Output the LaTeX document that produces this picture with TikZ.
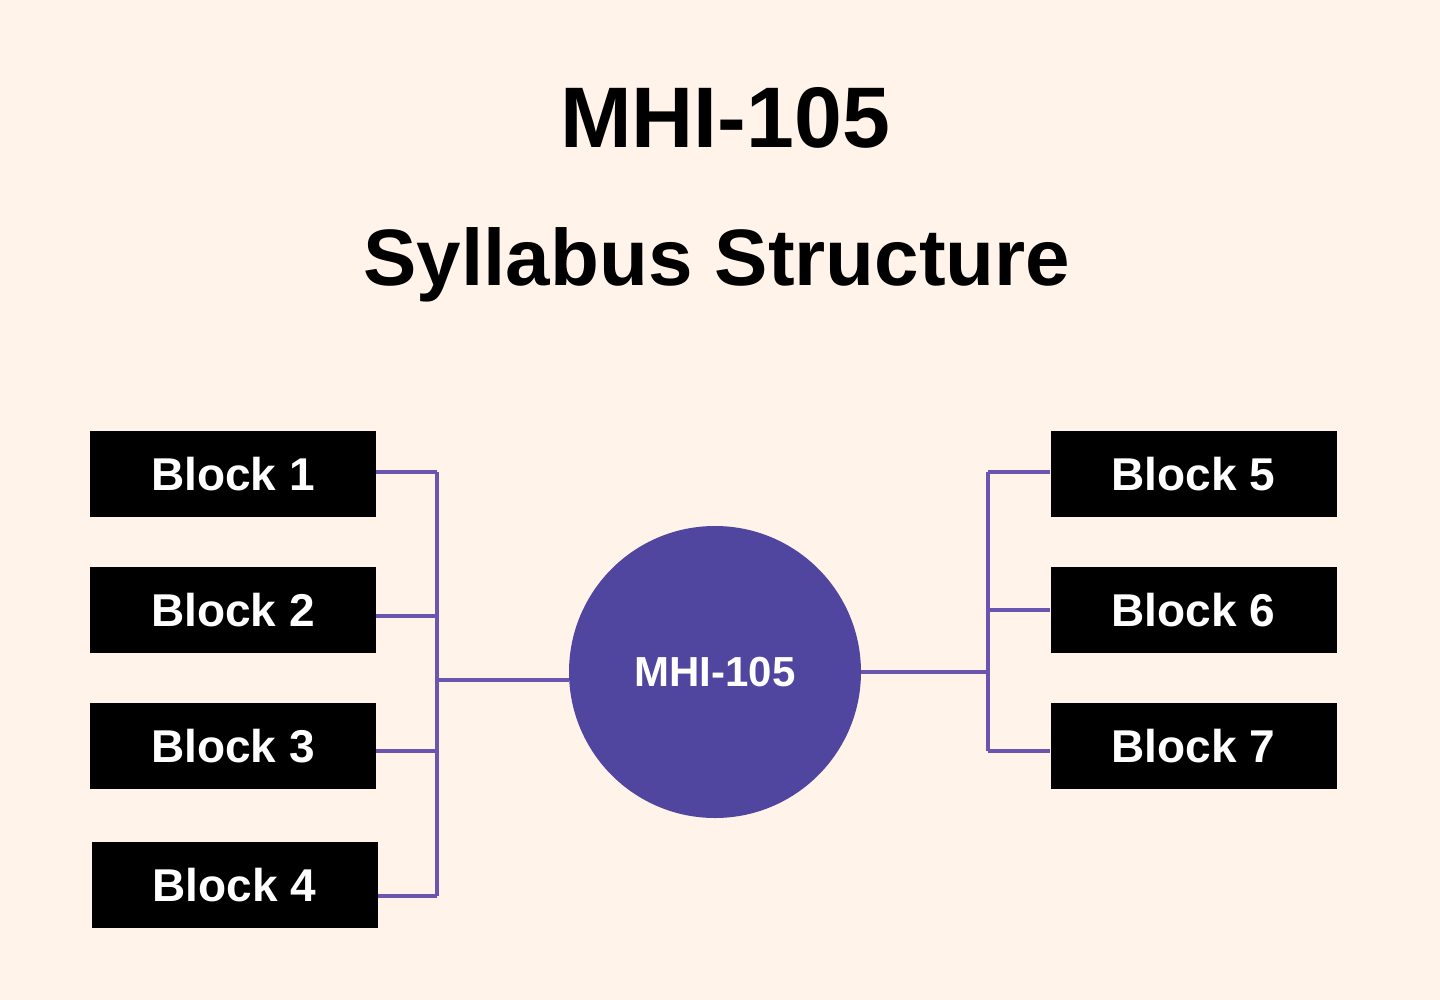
\documentclass[tikz,border=0pt]{standalone}
\usepackage{fontspec}
\setmainfont{Liberation Sans}
\begin{document}
\begin{tikzpicture}[x=0.5pt,y=-0.5pt,
  blk/.style={fill=black,text=white,minimum width=143pt,minimum height=43pt,inner sep=0pt,font=\fontsize{23}{26}\selectfont\bfseries},
  ln/.style={draw=lineP,line width=1.6pt}]
\definecolor{bg}{HTML}{FFF3EA}
\definecolor{circP}{HTML}{5046A0}
\definecolor{lineP}{HTML}{6A55B0}
\fill[bg] (0,0) rectangle (1440,1000);
\useasboundingbox (0,0) rectangle (1440,1000);
\node[font=\fontsize{43}{48}\selectfont\bfseries] (t1) at (725,118) {MHI-105};
\node[font=\fontsize{40}{46}\selectfont\bfseries] (t2) at (717,265) {Syllabus Structure};
\node[blk] (b1) at (233,474) {Block 1};
\node[blk] (b2) at (233,610) {Block 2};
\node[blk] (b3) at (233,746) {Block 3};
\node[blk] (b4) at (234.5,885) {Block 4};
\node[blk] (b5) at (1193.5,474) {Block 5};
\node[blk] (b6) at (1193.5,610) {Block 6};
\node[blk] (b7) at (1193.5,746) {Block 7};
\node[circle,fill=circP,minimum size=146pt,inner sep=0pt,text=white,font=\fontsize{21}{24}\selectfont\bfseries] (c) at (715,672) {MHI-105};
\coordinate (L1) at (437,472); \coordinate (L4) at (437,896);
\coordinate (R1) at (988,472); \coordinate (R7) at (988,751);
\draw[ln] (L1) -- (L4);
\draw[ln] (R1) -- (R7);
\draw[ln] (b1.east |- L1) -- (L1);
\draw[ln] (b2.east |- 0,616) -- (437,616);
\draw[ln] (b3.east |- 0,751) -- (437,751);
\draw[ln] (b4.east |- L4) -- (L4);
\draw[ln] (437,680) -- (c.west |- 0,680);
\draw[ln] (c.east) -- (988,672);
\draw[ln] (R1) -- (b5.west |- R1);
\draw[ln] (988,610) -- (b6.west);
\draw[ln] (R7) -- (b7.west |- R7);
\end{tikzpicture}
\end{document}
